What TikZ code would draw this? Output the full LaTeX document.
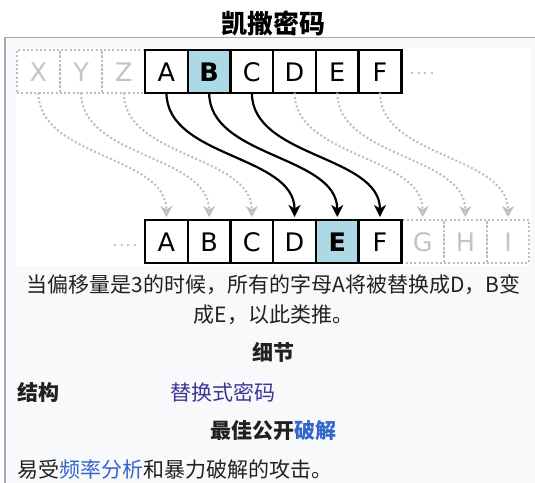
\documentclass[tikz,border=0pt]{standalone}
\usepackage{fontspec}
\setmainfont{DejaVu Sans}
\newfontfamily\cjk{Noto Sans CJK SC}
\newfontfamily\letf{DejaVu Sans}
\usetikzlibrary{arrows.meta,calc}
\definecolor{ibbg}{HTML}{F8F9FA}
\definecolor{ibborder}{HTML}{A2A9B1}
\definecolor{txt}{HTML}{202122}
\definecolor{lnk}{HTML}{3366CC}
\definecolor{vlnk}{HTML}{3F3496}
\definecolor{hl}{HTML}{ADD8E6}
\definecolor{ghost}{HTML}{BDBDBD}
\definecolor{ghosttxt}{HTML}{C4C4C4}
\begin{document}
\begin{tikzpicture}[x=1pt,y=-1pt,
  box/.style={draw=black, line width=2.4pt, fill=white, minimum width=42.7pt, minimum height=42.7pt,
    inner sep=0pt, outer sep=0pt, text height=21.2pt, text depth=0pt, font=\fontsize{25.5}{26}\letf, text=black},
  hlbox/.style={box, fill=hl, font=\fontsize{25.5}{26}\letf\bfseries},
  ghostbox/.style={draw=ghost, line width=2pt, dash pattern=on 2pt off 2.3pt, minimum width=42.7pt,
    minimum height=42.7pt, inner sep=0pt, outer sep=0pt, text height=21.2pt, text depth=0pt,
    font=\fontsize{25.5}{26}\letf, text=ghosttxt},
  garr/.style={draw=ghost, line width=2pt, dash pattern=on 2pt off 2.3pt,
    -{Stealth[length=11pt,width=12pt,inset=3.5pt,open]}, shorten >=3pt},
  barr/.style={draw=black, line width=2.2pt, -{Stealth[length=12pt,width=12pt,inset=3.5pt]}, shorten >=3pt},
  dotsty/.style={draw=ghosttxt, line width=2pt, dash pattern=on 2pt off 4.5pt},
  body/.style={font=\fontsize{21}{25}\cjk, text=txt, inner sep=0pt, anchor=base},
  bodyb/.style={font=\fontsize{21}{25}\cjk\bfseries, text=txt, inner sep=0pt, anchor=base}
]
\useasboundingbox (0,0) rectangle (535,482);
% infobox background
\fill[ibbg] (5,37.5) rectangle (545,492);
\draw[ibborder, line width=1.2pt] (5,492) -- (5,37.5) -- (545,37.5);
% image area
\fill[white] (15.5,47.5) rectangle (530.5,266);
% title
\node[font=\fontsize{26}{30}\cjk\bfseries, text=black, inner sep=0pt, anchor=base] (title) at (273,33) {凯撒密码};
% top row
\node[ghostbox] (tX) at (38.35,71.35) {X};
\node[ghostbox] (tY) at (81.05,71.35) {Y};
\node[ghostbox] (tZ) at (123.75,71.35) {Z};
\node[box] (tA) at (166.45,71.35) {A};
\node[hlbox] (tB) at (209.15,71.35) {B};
\node[box] (tC) at (251.85,71.35) {C};
\node[box] (tD) at (294.55,71.35) {D};
\node[box] (tE) at (337.25,71.35) {E};
\node[box] (tF) at (379.95,71.35) {F};
\coordinate (dotsT1) at (411,72.7);
\coordinate (dotsT2) at (433,72.7);
\draw[dotsty] (dotsT1) -- (dotsT2);
% bottom row
\node[ghostbox] (bG) at (422.65,241.35) {G};
\node[ghostbox] (bH) at (465.35,241.35) {H};
\node[ghostbox] (bI) at (508.05,241.35) {I};
\node[box] (bA) at (166.45,241.35) {A};
\node[box] (bB) at (209.15,241.35) {B};
\node[box] (bC) at (251.85,241.35) {C};
\node[box] (bD) at (294.55,241.35) {D};
\node[hlbox] (bE) at (337.25,241.35) {E};
\node[box] (bF) at (379.95,241.35) {F};
\coordinate (dotsB1) at (114,244.6);
\coordinate (dotsB2) at (136,244.6);
\draw[dotsty] (dotsB1) -- (dotsB2);
% arrows
\foreach \s/\t in {tX/bA, tY/bB, tZ/bC, tD/bG, tE/bH, tF/bI}
  \draw[garr] (\s.south) .. controls ($(\s.south)+(0,65)$) and ($(\t.north)+(0,-65)$) .. (\t.north);
\foreach \s/\t in {tA/bD, tB/bE, tC/bF}
  \draw[barr] (\s.south) .. controls ($(\s.south)+(0,65)$) and ($(\t.north)+(0,-65)$) .. (\t.north);
% texts
\node[body] (cap1) at (273.5,292) {当偏移量是3的时候，所有的字母A将被替换成D，B变};
\node[body] (cap2) at (273.5,322.6) {成E，以此类推。};
\node[bodyb] (hd1) at (273,360.8) {细节};
\node[bodyb, anchor=base west] (k1) at (17,400) {结构};
\node[body, anchor=base west, text=vlnk] (v1) at (170.6,400) {替换式密码};
\node[bodyb] (hd2) at (273.3,438.6) {最佳公开\textcolor{lnk}{破解}};
\node[body, anchor=base west] (v2) at (17,477) {易受\textcolor{lnk}{频率分析}和暴力破解的攻击。};
\end{tikzpicture}
\end{document}
